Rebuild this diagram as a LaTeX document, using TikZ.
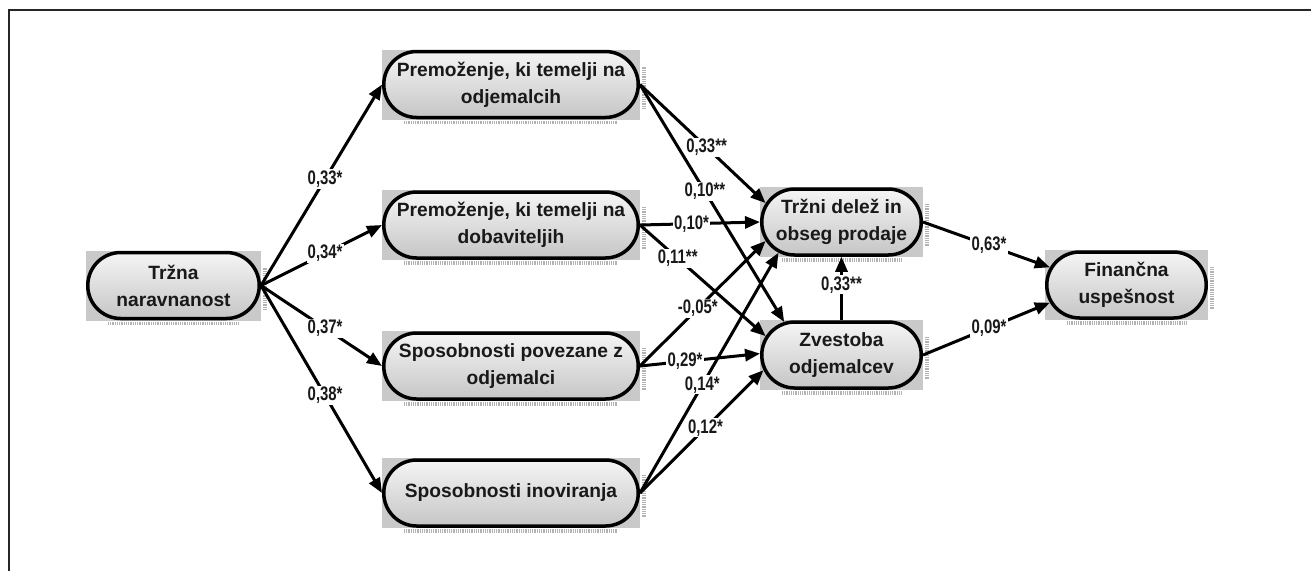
\documentclass[tikz,border=0pt]{standalone}
\usepackage{fontspec}
\setmainfont{Liberation Sans}
\newfontfamily\labfont{Liberation Sans}[FakeStretch=0.76]
\usetikzlibrary{shapes.misc,arrows.meta}

\tikzset{
  stadium/.style={rounded rectangle, draw=black, line width=1.75pt,
    top color=gray!8, bottom color=gray!45, minimum height=33pt,
    inner sep=0pt, align=center,
    font=\fontsize{9.6}{13.5}\selectfont\bfseries, text=black!90},
  boxbg/.style={fill=gray!42},
  shadowdots/.style={draw=gray!60, line width=1.8pt, dash pattern=on 0.4pt off 0.5pt},
  conn/.style={line width=1.5pt, -{Triangle[length=7.5pt,width=6pt]}},
  lab/.style={fill=white, inner sep=0.6pt, text=black!90,
    font=\labfont\fontsize{9.8}{10}\selectfont\bfseries},
  frameline/.style={line width=1pt, draw=black!85},
}

% name, x-centre, y-centre, width (px), text
\newcommand\stadnode[5]{%
  \fill[boxbg] ({#2-#4/2},{#3-35}) rectangle ({#2+#4/2},{#3+35});
  \draw[shadowdots] ({#2-#4/2+22},{#3+38}) -- ({#2+#4/2-22},{#3+38});
  \draw[shadowdots] ({#2+#4/2+4},{#3-18}) -- ({#2+#4/2+4},{#3+25});
  \node[stadium, minimum width={#4*0.5pt-1.75pt}] (#1) at (#2,#3) {#5};
}

\begin{document}
\begin{tikzpicture}[x=0.5pt, y=-0.5pt]
\useasboundingbox (0,0) rectangle (1311,570);
\draw[frameline] (9,575) -- (9,10) -- (1316,10);

\stadnode{A}{173.5}{285.5}{175}{Tržna\\naravnanost}
\stadnode{B1}{511}{84.5}{258}{Premoženje, ki temelji na\\odjemalcih}
\stadnode{B2}{511}{225}{258}{Premoženje, ki temelji na\\dobaviteljih}
\stadnode{B3}{511}{366}{258}{Sposobnosti povezane z\\odjemalci}
\stadnode{B4}{511}{493}{258}{Sposobnosti inoviranja}
\stadnode{C1}{841.5}{222}{163}{Tržni delež in\\obseg prodaje}
\stadnode{C2}{841.5}{355}{163}{Zvestoba\\odjemalcev}
\stadnode{D}{1126.5}{285}{163}{Finančna\\uspešnost}

\draw[conn] (A.east) -- node[lab, pos=0.53] {0,33*} (B1.west);
\draw[conn] (A.east) -- node[lab, pos=0.53] {0,34*} (B2.west);
\draw[conn] (A.east) -- node[lab, pos=0.53] {0,37*} (B3.west);
\draw[conn] (A.east) -- node[lab, pos=0.53] {0,38*} (B4.west);

\draw[conn] (B1.east) -- node[lab, pos=0.53] {0,33**} (C1.166);
\draw[conn] (B1.east) -- node[lab, pos=0.45] {0,10**} (C2.150);
\draw[conn] (B2.east) -- node[lab, pos=0.43] {0,10*} (C1.west);
\draw[conn] (B2.east) -- node[lab, pos=0.30] {0,11**} (C2.166);
\draw[conn] (B3.east) -- node[lab, pos=0.46] {-0,05*} (C1.194);
\draw[conn] (B3.east) -- node[lab, pos=0.375] {0,29*} (C2.179);
\draw[conn] (B4.east) -- node[lab, pos=0.45] {0,14*} (C1.206);
\draw[conn] (B4.east) -- node[lab, pos=0.53] {0,12*} (C2.191);

\draw[conn] (C2.north) -- node[lab, pos=0.56] {0,33**} (C1.south);
\draw[conn] (C1.east) -- node[lab, pos=0.52] {0,63*} (D.167);
\draw[conn] (C2.east) -- node[lab, pos=0.52] {0,09*} (D.193);
\end{tikzpicture}
\end{document}
